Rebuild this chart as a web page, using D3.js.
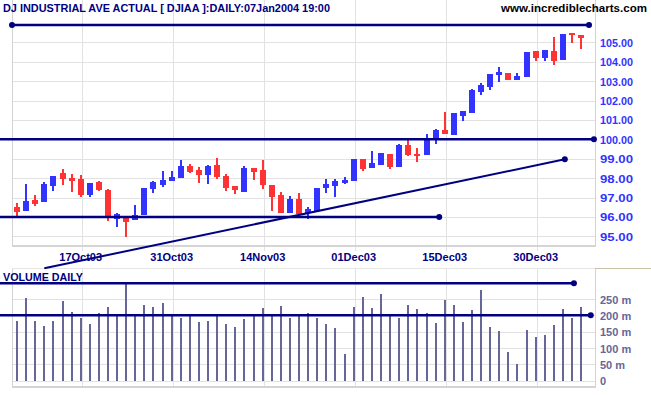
<!DOCTYPE html>
<html><head><meta charset="utf-8">
<script src="https://cdn.jsdelivr.net/npm/d3@7/dist/d3.min.js"></script>
<style>
html,body{margin:0;padding:0;background:#fff;}
svg{display:block;}
text{font-family:"Liberation Sans",Arial,sans-serif;font-weight:bold;font-size:11px;}
</style></head>
<body>
<svg id="chart" width="651" height="395"></svg>
<script>
// ---- data ----
const dates = ["08Oct03","09Oct03","10Oct03","13Oct03","14Oct03","15Oct03","16Oct03","17Oct03","20Oct03","21Oct03",
"22Oct03","23Oct03","24Oct03","27Oct03","28Oct03","29Oct03","30Oct03","31Oct03","03Nov03","04Nov03",
"05Nov03","06Nov03","07Nov03","10Nov03","11Nov03","12Nov03","13Nov03","14Nov03","17Nov03","18Nov03",
"19Nov03","20Nov03","21Nov03","24Nov03","25Nov03","26Nov03","28Nov03","01Dec03","02Dec03","03Dec03",
"04Dec03","05Dec03","08Dec03","09Dec03","10Dec03","11Dec03","12Dec03","15Dec03","16Dec03","17Dec03",
"18Dec03","19Dec03","22Dec03","23Dec03","24Dec03","26Dec03","29Dec03","30Dec03","31Dec03","02Jan04",
"05Jan04","06Jan04","07Jan04"];
const open  = [96.53,96.30,96.86,96.77,97.61,98.25,98.01,97.94,97.14,97.80,
97.39,95.91,96.01,95.84,96.10,97.42,97.64,97.87,98.02,98.62,
98.40,98.16,98.68,98.11,97.59,97.30,98.51,98.42,97.66,97.13,
96.19,96.91,96.22,96.30,97.47,97.59,97.75,97.85,98.97,98.54,
98.68,99.26,98.59,99.69,99.26,99.19,100.03,100.46,100.24,101.20,
101.37,102.44,102.70,103.33,103.40,103.06,103.23,104.54,104.19,104.55,
104.10,105.48,105.36];
const high  = [96.73,97.71,97.14,97.80,98.11,98.47,98.21,98.16,97.75,97.85,
97.42,96.22,96.01,96.61,97.51,97.85,98.37,98.37,98.93,98.71,
98.59,98.68,99.05,98.23,97.59,98.61,98.51,98.93,97.66,97.30,
97.08,97.23,96.51,97.47,97.94,97.94,98.06,98.97,98.97,99.40,
99.31,99.26,99.74,100.03,99.54,100.26,100.52,101.41,101.34,101.46,
102.58,102.92,103.35,103.73,103.40,103.42,104.50,104.54,104.59,105.27,
105.43,105.48,105.36];
const low   = [95.96,96.30,96.55,96.77,97.35,97.66,97.28,97.04,97.04,97.35,
95.79,95.48,94.96,95.84,96.10,97.23,97.56,97.87,98.02,98.25,
97.76,97.71,97.97,97.34,97.20,97.30,97.92,97.45,96.30,96.19,
96.19,96.13,95.88,96.30,97.25,97.03,97.68,97.85,98.37,98.54,
98.68,98.48,98.59,99.14,98.83,99.19,99.77,100.26,100.24,100.94,
101.37,102.28,102.54,102.95,103.06,103.06,103.23,104.04,104.04,103.83,
104.10,104.98,104.67];
const close = [96.25,96.82,96.65,97.68,98.11,97.97,97.85,97.13,97.75,97.39,
95.96,96.13,95.74,96.11,97.51,97.80,97.90,98.06,98.62,98.33,
98.16,98.62,98.06,97.51,97.37,98.54,98.33,97.64,97.03,96.19,
96.91,96.13,96.39,97.47,97.68,97.85,97.89,98.97,98.48,98.76,
99.31,98.59,99.69,99.19,99.18,100.08,100.46,100.26,101.34,101.46,
102.53,102.78,103.35,103.47,103.06,103.26,104.50,104.19,104.59,104.04,
105.43,105.36,105.24];
const volume = [183,254,183,167,183,244,210,192,173,206,
226,198,297,197,232,226,238,198,192,198,
180,183,198,173,164,189,204,222,204,229,
192,204,207,192,173,161,82,226,256,222,
265,201,192,232,219,207,177,247,232,180,
216,278,165,152,88,51,155,134,140,170,
219,192,226];
const xTickLabels = ["17Oct03","31Oct03","14Nov03","01Dec03","15Dec03","30Dec03"];
const priceTicks = [95,96,97,98,99,100,101,102,103,104,105];
const volumeTicks = [0,50,100,150,200,250];
// drawn lines: [index, value] endpoints
const priceLines = [
  {a:[-0.55,105.89], b:[62.86,105.89], dotA:true},
  {a:[-1.9,100.0], b:[63.4,100.0], dotA:false},
  {a:[-1.9,96.0], b:[46.4,96.0], dotA:false},
  {a:[3.0,93.35], b:[60.2,98.97], dotA:false, thin:true}
];
const volumeLines = [
  {a:[-1.9,298], b:[61.2,298]},
  {a:[-1.9,200], b:[63.05,200]}
];
const title = "DJ INDUSTRIAL AVE ACTUAL [ DJIAA ]:DAILY:07Jan2004 19:00";
const site = "www.incrediblecharts.com";

// ---- layout ----
const svg = d3.select("#chart");
const P = {left:12, right:595, top:0, bottom:245.5};
const V = {left:12, right:595, top:268.3, bottom:386.5};
const x = d3.scaleLinear().domain([0, dates.length-1]).range([17, 17+9.1*(dates.length-1)]);
const y = d3.scaleLinear().domain([95,105]).range([236.3, 42.3]);
const yv = d3.scaleLinear().domain([0,250]).range([380.7, 299]);
const tickIdx = xTickLabels.map(l => dates.indexOf(l));

const navy = "#000080", red = "#ff3333", blue = "#3333ff", grid = "#e2e2e2", border = "#d4d4d4";

// price panel grid
const gp = svg.append("g").attr("shape-rendering","crispEdges");
gp.selectAll(".hg").data(priceTicks).enter().append("line")
  .attr("x1",P.left).attr("x2",P.right).attr("y1",d=>Math.round(y(d))+0.5).attr("y2",d=>Math.round(y(d))+0.5)
  .attr("stroke",grid);
gp.selectAll(".vg").data(tickIdx).enter().append("line")
  .attr("x1",d=>Math.round(x(d))+1.5).attr("x2",d=>Math.round(x(d))+1.5).attr("y1",P.top).attr("y2",251)
  .attr("stroke",grid);
gp.append("line").attr("x1",P.left+0.5).attr("x2",P.left+0.5).attr("y1",0).attr("y2",P.bottom).attr("stroke",border);
gp.append("line").attr("x1",P.right+0.5).attr("x2",P.right+0.5).attr("y1",0).attr("y2",P.bottom).attr("stroke",border);
gp.append("line").attr("x1",P.left).attr("x2",P.right+1).attr("y1",P.bottom).attr("y2",P.bottom).attr("stroke",border).attr("stroke-width",2);

// volume panel grid
const gv = svg.append("g").attr("shape-rendering","crispEdges");
gv.selectAll(".hg").data(volumeTicks).enter().append("line")
  .attr("x1",V.left).attr("x2",V.right).attr("y1",d=>Math.round(yv(d))+0.5).attr("y2",d=>Math.round(yv(d))+0.5)
  .attr("stroke",grid);
gv.selectAll(".vg").data(tickIdx).enter().append("line")
  .attr("x1",d=>Math.round(x(d))+1.5).attr("x2",d=>Math.round(x(d))+1.5).attr("y1",V.top).attr("y2",V.bottom)
  .attr("stroke",grid);
gv.append("line").attr("x1",V.left+0.5).attr("x2",V.left+0.5).attr("y1",V.top).attr("y2",V.bottom).attr("stroke",border);
gv.append("line").attr("x1",V.right+0.5).attr("x2",V.right+0.5).attr("y1",V.top).attr("y2",V.bottom).attr("stroke",border);
gv.append("line").attr("x1",V.left).attr("x2",V.right+1).attr("y1",V.bottom).attr("y2",V.bottom).attr("stroke",border).attr("stroke-width",2);
gv.append("line").attr("x1",V.left).attr("x2",V.right).attr("y1",V.top).attr("y2",V.top).attr("stroke","#e6e6e6");
gv.append("line").attr("x1",V.right).attr("x2",651).attr("y1",V.top).attr("y2",V.top).attr("stroke","#c8c4a8");

// volume bars
svg.append("g").attr("shape-rendering","crispEdges").selectAll("rect").data(volume).enter().append("rect")
  .attr("x",(d,i)=>Math.round(x(i))-1).attr("width",2)
  .attr("y",d=>Math.round(yv(d))).attr("height",d=>Math.round(yv(0))-Math.round(yv(d)))
  .attr("fill","#666699");

// candles
const candles = svg.append("g").attr("shape-rendering","crispEdges");
dates.forEach((dt,i)=>{
  const up = close[i] >= open[i];
  const col = up ? blue : red;
  const cx = Math.round(x(i));
  candles.append("rect").attr("x",cx-1).attr("width",2)
    .attr("y",Math.round(y(high[i]))).attr("height",Math.max(1,Math.round(y(low[i]))-Math.round(y(high[i]))))
    .attr("fill",col);
  const t = Math.round(y(Math.max(open[i],close[i]))), b = Math.round(y(Math.min(open[i],close[i])));
  candles.append("rect").attr("x",cx-3).attr("width",6)
    .attr("y",t).attr("height",Math.max(2,b-t)).attr("fill",col);
});

// price lines
const gl = svg.append("g");
priceLines.forEach(l=>{
  gl.append("line").attr("x1",x(l.a[0])).attr("y1",y(l.a[1])).attr("x2",x(l.b[0])).attr("y2",y(l.b[1]))
    .attr("stroke",navy).attr("stroke-width",l.thin?2:2.5);
  gl.append("circle").attr("cx",x(l.b[0])).attr("cy",y(l.b[1])).attr("r",3).attr("fill",navy);
  if(l.dotA) gl.append("circle").attr("cx",x(l.a[0])).attr("cy",y(l.a[1])).attr("r",3).attr("fill",navy);
});
volumeLines.forEach(l=>{
  gl.append("line").attr("x1",x(l.a[0])).attr("y1",yv(l.a[1])).attr("x2",x(l.b[0])).attr("y2",yv(l.b[1]))
    .attr("stroke",navy).attr("stroke-width",2.5);
  gl.append("circle").attr("cx",x(l.b[0])).attr("cy",yv(l.b[1])).attr("r",3).attr("fill",navy);
});

// axes labels
const tx = svg.append("g");
tx.selectAll(".pl").data(priceTicks).enter().append("text")
  .attr("x",600).attr("y",d=>y(d)+4.5).attr("fill",blue).attr("textLength",33).attr("lengthAdjust","spacingAndGlyphs")
  .text(d=>d3.format(".2f")(d));
tx.selectAll(".vl").data(volumeTicks).enter().append("text")
  .attr("x",600).attr("y",d=>yv(d)+4.5).attr("fill","#666699")
  .text(d=>d===0?"0":d+" m");
tx.selectAll(".xl").data(xTickLabels).enter().append("text")
  .attr("x",(d,i)=>x(tickIdx[i])).attr("y",261).attr("text-anchor","middle").attr("fill",navy)
  .text(d=>d);
tx.append("text").attr("x",3).attr("y",281).attr("fill",navy).attr("textLength",80).attr("lengthAdjust","spacingAndGlyphs").text("VOLUME DAILY");
tx.append("text").attr("x",3).attr("y",12).attr("fill",navy).attr("textLength",327).attr("lengthAdjust","spacingAndGlyphs").text(title);
tx.append("text").attr("x",501).attr("y",12).attr("fill","#000").attr("textLength",146).attr("lengthAdjust","spacingAndGlyphs").text(site);
</script>
</body></html>
